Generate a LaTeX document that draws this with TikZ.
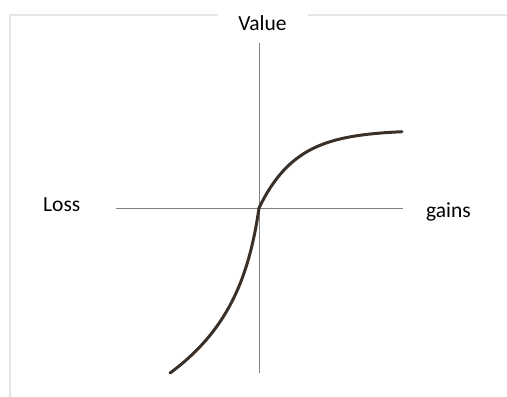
\documentclass[tikz,border=0pt]{standalone}
\usepackage{fontspec}
\setmainfont{Carlito}
\definecolor{grigioasse}{HTML}{808080}
\definecolor{grigiocornice}{HTML}{E6E6E6}
\definecolor{marronecurva}{HTML}{3A3028}
\begin{document}
\begin{tikzpicture}[x=1pt, y=-1pt,
        asse/.style={draw=grigioasse, line width=1pt},
        cornice/.style={draw=grigiocornice, line width=1.2pt},
        curva/.style={draw=marronecurva, line width=3pt, line cap=round, line join=round},
        etichetta/.style={font=\fontsize{21.5}{26}\selectfont, inner sep=0pt}]
        \useasboundingbox (0,0) rectangle (507,397);

        % Cornice
        \draw[cornice] (218,15) -- (10,15) -- (10,397);
        \draw[cornice] (308,15) -- (507,15);

        % Assi cartesiani
        \coordinate (ysu) at (259,43);
        \coordinate (ygiu) at (259,373);
        \coordinate (xsx) at (116,208);
        \coordinate (xdx) at (403,208);
        \draw[asse] (ysu) -- (ygiu);
        \draw[asse] (xsx) -- (xdx);

        % Curva del valore - ramo delle perdite
        \draw[curva, smooth, samples=90, domain=170:259] plot (\x, {208+73.4*ln(1+(259-\x)/10.5)});
        % Curva del valore - ramo dei guadagni
        \draw[curva, smooth, samples=90, domain=259:402] plot (\x, {208-78*(1-exp(-(\x-259)/37.5))});

        % Etichette
        \node[etichetta, anchor=base] (valore) at (262.5,30) {Value};
        \node[etichetta, anchor=base west] (perdite) at (43,211) {Loss};
        \node[etichetta, anchor=base west] (guadagni) at (426,217) {gains};
\end{tikzpicture}
\end{document}
